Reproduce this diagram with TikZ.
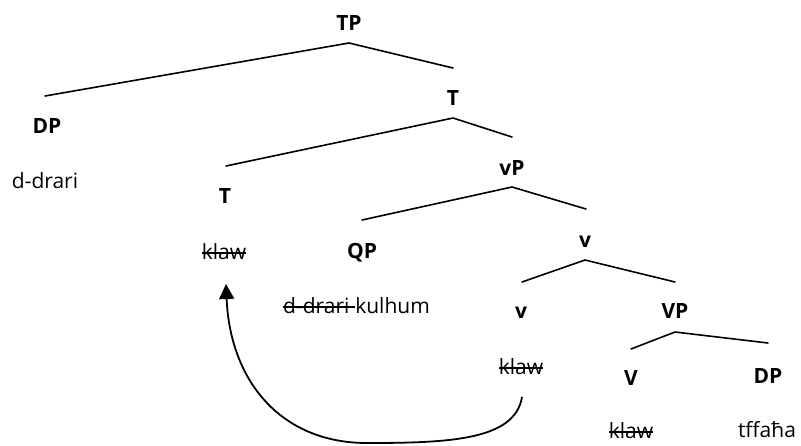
\documentclass[tikz,border=0pt]{standalone}
\usepackage{fontspec}
\setmainfont{Open Sans}
\usetikzlibrary{arrows.meta}
\begin{document}
\begin{tikzpicture}[x=1pt,y=-1pt,
  lab/.style={anchor=base,inner sep=0pt,font=\fontsize{21}{25}\selectfont\bfseries},
  wrd/.style={anchor=base,inner sep=0pt,font=\fontsize{21}{25}\selectfont},
  br/.style={line width=1.6pt,line cap=round,line join=round},
  strk/.style={line width=1.2pt},
  mv/.style={line width=1.8pt,-{Triangle[width=15pt,length=15pt]}}]
\useasboundingbox (0,0) rectangle (801,445);
% labels
\node[lab] (TP) at (349,30) {TP};
\node[lab] (DP1) at (47,133) {DP};
\node[wrd] (ddrari) at (45,188) {d-drari};
\node[lab] (Tbar) at (453,105) {T};
\node[lab] (T) at (225,203) {T};
\node[wrd] (klawT) at (224,259) {klaw};
\node[lab] (vP) at (512,175) {vP};
\node[lab] (QP) at (362,258) {QP};
\node[wrd,anchor=base west] (QPa) at (283,313) {d-drari};
\node[wrd,anchor=base west] (QPb) at ([xshift=5.5pt]QPa.base east) {kulhum};
\node[lab] (vbar) at (585,247) {v};
\node[lab] (v) at (521,318) {v};
\node[wrd] (klawv) at (521,374) {klaw};
\node[lab] (VP) at (675,318) {VP};
\node[lab] (V) at (631,385) {V};
\node[wrd] (klawV) at (631,438) {klaw};
\node[lab] (DP2) at (768,383) {DP};
\node[wrd] (tff) at (767,437) {tffaħa};
% strike-throughs
\draw[strk] ([yshift=6pt]klawT.base west) -- ([yshift=6pt]klawT.base east);
\draw[strk] ([yshift=6pt]klawv.base west) -- ([yshift=6pt]klawv.base east);
\draw[strk] ([yshift=6pt]klawV.base west) -- ([yshift=6pt]klawV.base east);
\draw[strk] ([yshift=6pt]QPa.base west) -- ([yshift=6pt]QPb.base west);
% branch points
\coordinate (a1) at (349,43);  \coordinate (l1) at (45,96);   \coordinate (r1) at (453,68);
\coordinate (a2) at (453,118); \coordinate (l2) at (226,166); \coordinate (r2) at (512,137);
\coordinate (a3) at (512,187); \coordinate (l3) at (362,220); \coordinate (r3) at (586,209);
\coordinate (a4) at (585,260); \coordinate (l4) at (522,282); \coordinate (r4) at (675,282);
\coordinate (a5) at (675,332); \coordinate (l5) at (631,349); \coordinate (r5) at (768,343);
\draw[br] (l1) -- (a1) -- (r1);
\draw[br] (l2) -- (a2) -- (r2);
\draw[br] (l3) -- (a3) -- (r3);
\draw[br] (l4) -- (a4) -- (r4);
\draw[br] (l5) -- (a5) -- (r5);
% movement arrow
\coordinate (ms) at (522,397);
\coordinate (mb) at (367,443);
\coordinate (me) at (226,284);
\draw[mv] (ms) .. controls (515,440) and (450,443) .. (mb) .. controls (280,443) and (230,380) .. (me);
\end{tikzpicture}
\end{document}
